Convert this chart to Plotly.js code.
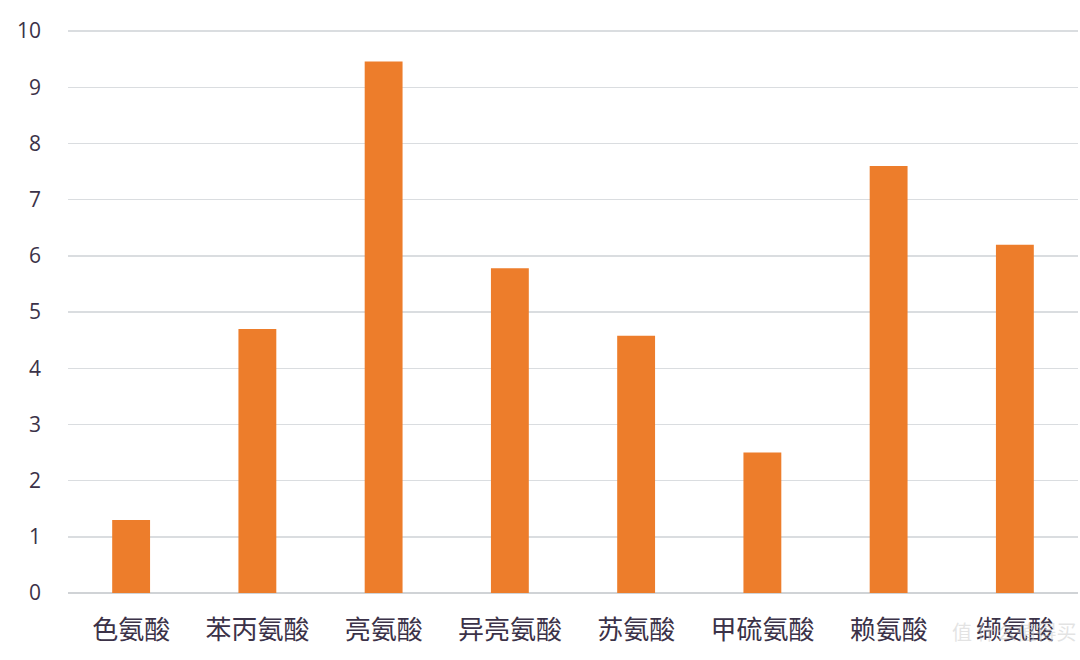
<!DOCTYPE html>
<html>
<head>
<meta charset="utf-8">
<script src="https://cdn.plot.ly/plotly-3.0.1.min.js"></script>
<style>html,body{margin:0;padding:0;background:#fff;}#chart{width:1080px;height:660px;}</style>
</head>
<body>
<div id="chart"></div>
<script>
const categories = ["色氨酸", "苯丙氨酸", "亮氨酸", "异亮氨酸", "苏氨酸", "甲硫氨酸", "赖氨酸", "缬氨酸"];
const values = [1.3, 4.7, 9.46, 5.78, 4.58, 2.5, 7.6, 6.2];
const yTicks = [0, 1, 2, 3, 4, 5, 6, 7, 8, 9, 10];

const textColor = "#3b3248";
const trace = {
  type: "bar",
  x: categories,
  y: values,
  marker: {color: "#ED7D2B"},
  hoverinfo: "x+y"
};

const layout = {
  width: 1080,
  height: 660,
  margin: {l: 68, r: 2, t: 30, b: 67},
  paper_bgcolor: "#ffffff",
  plot_bgcolor: "#ffffff",
  bargap: 0.7,
  showlegend: false,
  font: {family: "'Noto Sans CJK SC', 'Open Sans', sans-serif", color: textColor},
  xaxis: {
    type: "category",
    showgrid: false,
    showline: false,
    zeroline: false,
    ticks: "",
    ticklabelstandoff: 19,
    tickfont: {size: 26, color: textColor, family: "'Noto Sans CJK SC', sans-serif"}
  },
  yaxis: {
    range: [0, 10.02],
    tickvals: yTicks,
    ticktext: yTicks.map(String),
    showgrid: true,
    gridcolor: "#dadde0",
    gridwidth: 1.5,
    zeroline: true,
    zerolinecolor: "#d0d3d6",
    zerolinewidth: 1.5,
    showline: false,
    ticks: "",
    ticklabelstandoff: 26,
    tickfont: {size: 21, color: textColor, family: "'Open Sans', 'Noto Sans', sans-serif"}
  },
  annotations: [{
    text: "值 什么值得买",
    xref: "paper", yref: "paper",
    x: 1.0, y: -0.068,
    xanchor: "right", yanchor: "middle",
    showarrow: false,
    font: {size: 20, color: "rgba(200,200,200,0.5)", family: "'Noto Sans CJK SC', sans-serif"}
  }]
};

Plotly.newPlot("chart", [trace], layout, {displayModeBar: false, staticPlot: true});
</script>
</body>
</html>
